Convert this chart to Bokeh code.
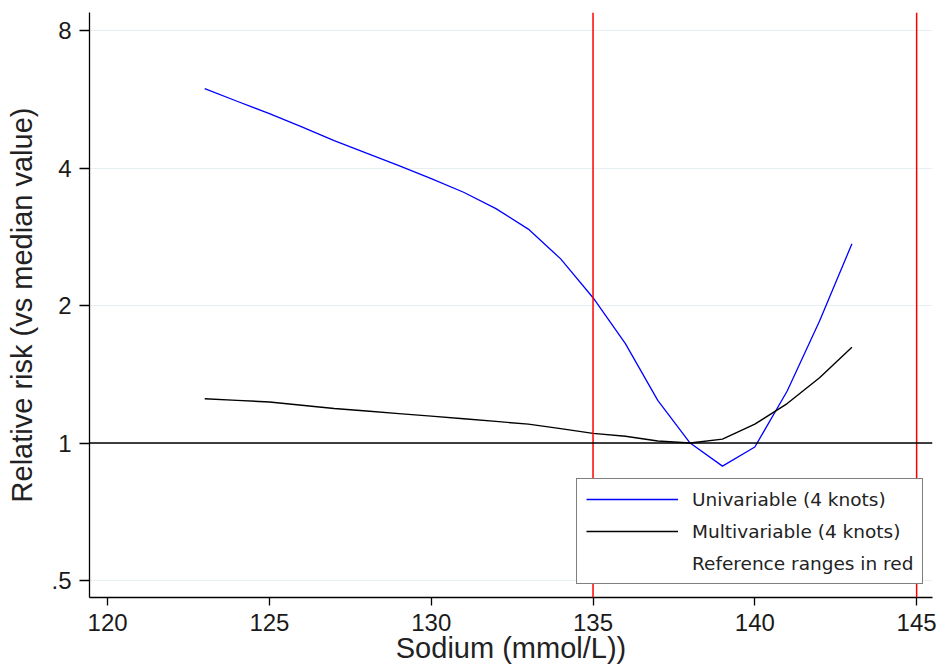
from bokeh.plotting import figure
from bokeh.models import Range1d, FixedTicker, Span, Legend, LegendItem
from bokeh.embed import file_html
from bokeh.resources import INLINE

sodium = [123, 124, 125, 126, 127, 128, 129, 130, 131, 132, 133,
          134, 135, 136, 137, 138, 139, 140, 141, 142, 143]
univariable = [5.97, 5.6, 5.26, 4.92, 4.59, 4.31, 4.05, 3.79, 3.54, 3.26, 2.94,
               2.53, 2.08, 1.65, 1.24, 1.0, 0.89, 0.98, 1.30, 1.85, 2.73]
multivariable = [1.25, 1.24, 1.23, 1.21, 1.19, 1.175, 1.16, 1.145, 1.13, 1.115, 1.10,
                 1.075, 1.05, 1.035, 1.01, 1.0, 1.02, 1.10, 1.22, 1.39, 1.62]
reference_limits = [135, 145]
y_ticks = [0.5, 1, 2, 4, 8]
y_tick_labels = [".5", "1", "2", "4", "8"]
x_ticks = [120, 125, 130, 135, 140, 145]
legend_labels = ["Univariable (4 knots)", "Multivariable (4 knots)", "Reference ranges in red"]

FONT = "Liberation Sans"
LEGEND_FONT = "DejaVu Sans"

p = figure(width=938, height=670, output_backend="svg", toolbar_location=None,
           y_axis_type="log",
           x_range=Range1d(119.44, 145.49), y_range=Range1d(0.459, 8.76),
           min_border_left=89, min_border_right=6, min_border_top=12, min_border_bottom=73)
p.outline_line_color = None
p.background_fill_color = "white"
p.border_fill_color = "white"

# axes
p.xaxis.ticker = FixedTicker(ticks=x_ticks)
p.yaxis.ticker = FixedTicker(ticks=y_ticks)
p.yaxis.major_label_overrides = {t: l for t, l in zip(y_ticks, y_tick_labels)}
for ax in (p.xaxis, p.yaxis):
    ax.axis_line_color = "black"
    ax.axis_line_width = 1.3
    ax.major_tick_line_color = "black"
    ax.major_tick_line_width = 1.3
    ax.major_tick_in = 0
    ax.minor_tick_line_color = None
    ax.major_label_text_font = FONT
    ax.major_label_text_font_size = "24px"
    ax.major_label_text_color = "#1a1a1a"
    ax.axis_label_text_font = FONT
    ax.axis_label_text_font_size = "29px"
    ax.axis_label_text_font_style = "normal"
    ax.axis_label_text_color = "#222222"
p.xaxis.major_tick_out = 8
p.yaxis.major_tick_out = 10
p.xaxis.major_label_standoff = 8
p.yaxis.major_label_standoff = 8
p.xaxis.axis_label = "Sodium (mmol/L))"
p.yaxis.axis_label = "Relative risk (vs median value)"
p.xaxis.axis_label_standoff = -2
p.yaxis.axis_label_standoff = 10

p.xgrid.grid_line_color = None
p.ygrid.grid_line_color = "#e8eff3"
p.ygrid.grid_line_width = 1

# reference lines
for lim in reference_limits:
    p.add_layout(Span(location=lim, dimension="height", line_color="red", line_width=1.5))
p.add_layout(Span(location=1, dimension="width", line_color="black", line_width=1.5))

r_uni = p.line(sodium, univariable, line_color="blue", line_width=1.3)
r_multi = p.line(sodium, multivariable, line_color="black", line_width=1.4)
r_note = p.line(sodium, univariable, line_alpha=0)

legend = Legend(items=[
    LegendItem(label=legend_labels[0], renderers=[r_uni]),
    LegendItem(label=legend_labels[1], renderers=[r_multi]),
    LegendItem(label=legend_labels[2], renderers=[r_note]),
], location=(487, 13))
legend.border_line_color = "black"
legend.border_line_width = 1.5
legend.background_fill_color = "white"
legend.background_fill_alpha = 1
legend.label_text_font = LEGEND_FONT
legend.label_text_font_size = "18.5px"
legend.label_text_color = "#222222"
legend.glyph_width = 92
legend.glyph_height = 22
legend.label_height = 22
legend.label_standoff = 14
legend.spacing = 10
legend.padding = 9
legend.margin = 0
p.add_layout(legend, "center")

open("out.html", "w").write(file_html(p, INLINE))
